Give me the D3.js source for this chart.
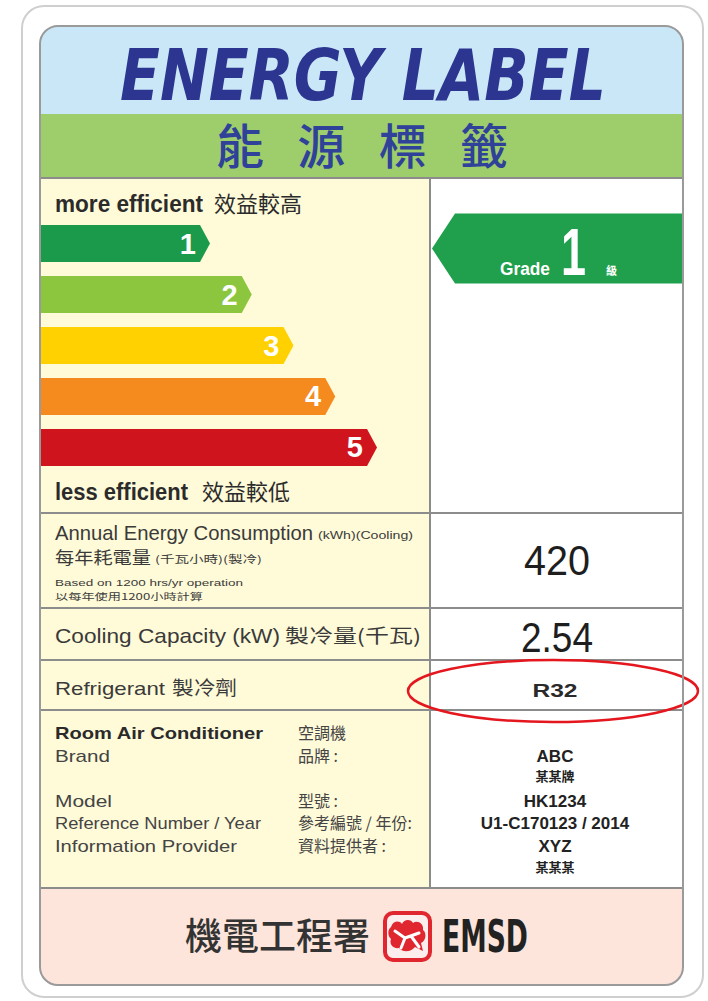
<!DOCTYPE html>
<html lang="zh-Hant">
  <head>
    <meta charset="utf-8"/>
    <title>Energy Label</title>
    <script src="https://cdn.jsdelivr.net/npm/d3@7"></script>
    <style>
      body { margin: 0; background: #fff; }
      svg { display: block; }
    </style>
  </head>
  <body>
    <div id="label-holder"></div>
    <script type="text/javascript">

      // grades shown on the scale, best first
      var grades = [1, 2, 3, 4, 5];
      var gradeColours = ["#1c9a4b", "#8cc63f", "#ffd100", "#f58a1f", "#d0141d"];
      var currentGrade = 1;

      // rows of the table
      var annualEnergy = "420";
      var coolingCapacity = "2.54";
      var refrigerant = "R32";

      var infoLabelsEn = ["Room Air Conditioner", "Brand", "Model", "Reference Number / Year", "Information Provider"];
      var infoLabelsZh = ["空調機", "品牌 :", "型號 :", "參考編號 / 年份:", "資料提供者 :"];
      var infoValues = ["ABC", "某某牌", "HK1234", "U1-C170123 / 2014", "XYZ", "某某某"];

      var W = 708, H = 1001;
      var L = 40, R = 683, T = 26, B = 985, mid = 430;
      var sans = "'Liberation Sans', Arial, sans-serif";
      var cjk = "'Noto Sans CJK TC', 'Noto Sans CJK SC', sans-serif";
      var lineCol = "#8c8c8c";

      var svg = d3.select("#label-holder")
        .append("svg")
        .attr("width", W)
        .attr("height", H)
      ;

      // outer card
      svg.append("rect")
        .attr("x", 22).attr("y", 6)
        .attr("width", 681).attr("height", 991)
        .attr("rx", 22)
        .attr("fill", "#fff")
        .attr("stroke", "#cfcfcf")
        .attr("stroke-width", 2)
      ;

      svg.append("clipPath").attr("id", "labelClip")
        .append("rect")
        .attr("x", L).attr("y", T)
        .attr("width", R - L).attr("height", B - T)
        .attr("rx", 18)
      ;

      var g = svg.append("g").attr("clip-path", "url(#labelClip)");

      // background bands
      g.append("rect").attr("x", L).attr("y", T).attr("width", R - L).attr("height", 114 - T).attr("fill", "#c9e7f6");
      g.append("rect").attr("x", L).attr("y", 114).attr("width", R - L).attr("height", 64).attr("fill", "#9ecd6b");
      g.append("rect").attr("x", L).attr("y", 178).attr("width", mid - L).attr("height", 888 - 178).attr("fill", "#fffad8");
      g.append("rect").attr("x", mid).attr("y", 178).attr("width", R - mid).attr("height", 888 - 178).attr("fill", "#fff");
      g.append("rect").attr("x", L).attr("y", 888).attr("width", R - L).attr("height", B - 888).attr("fill", "#fde5db");

      // squeeze a text horizontally to a given width (keeps its real box)
      function squeeze(sel, x, yy, width) {
        var w = sel.node().getComputedTextLength();
        sel.attr("x", 0).attr("y", 0)
          .attr("transform", "translate(" + x + "," + yy + ") scale(" + (width / w) + ",1)");
        return sel;
      }

      // titles
      var title = svg.append("text")
        .style("font-family", "'DejaVu Sans', sans-serif")
        .style("font-weight", "bold")
        .style("font-style", "italic")
        .style("font-size", "71px")
        .attr("fill", "#2c3590")
        .text("ENERGY LABEL")
      ;
      squeeze(title, 120, 100, 486);

      var zhTitle = ["能", "源", "標", "籤"];
      var zhX = d3.scalePoint().domain(zhTitle).range([240, 484]);
      svg.selectAll("text.zhTitle")
        .data(zhTitle)
        .enter()
        .append("text")
        .attr("class", "zhTitle")
        .attr("x", function(d) { return zhX(d); })
        .attr("y", 164)
        .attr("text-anchor", "middle")
        .style("font-family", cjk)
        .style("font-weight", 500)
        .style("font-size", "48px")
        .attr("fill", "#2f4199")
        .text(function(d) { return d; })
      ;

      // grade bars
      var y = d3.scaleBand()
        .domain(grades)
        .range([225, 466])
        .paddingInner(0.2745)
        .paddingOuter(0)
      ;
      var tipX = d3.scaleLinear().domain([1, 5]).range([210, 377]);
      var bw = y.bandwidth();

      var bars = g.selectAll("g.grade")
        .data(grades)
        .enter()
        .append("g")
        .attr("class", "grade")
      ;
      bars.append("polygon")
        .attr("points", function(d) {
          var t = tipX(d), y0 = y(d);
          return [[L, y0], [t - 10, y0], [t, y0 + bw / 2], [t - 10, y0 + bw], [L, y0 + bw]].join(" ");
        })
        .attr("fill", function(d, i) { return gradeColours[i]; })
      ;
      bars.append("text")
        .attr("x", function(d) { return tipX(d) - 14; })
        .attr("y", function(d) { return y(d) + bw / 2 + 10; })
        .attr("text-anchor", "end")
        .style("font-family", sans)
        .style("font-weight", "bold")
        .style("font-size", "29px")
        .attr("fill", "#fff")
        .text(function(d) { return d; })
      ;

      // efficiency captions
      function caption(yy, en, enW, zh, zhX) {
        svg.append("text")
          .attr("x", 55).attr("y", yy)
          .attr("textLength", enW)
          .attr("lengthAdjust", "spacingAndGlyphs")
          .style("font-family", sans)
          .style("font-weight", "bold")
          .style("font-size", "23px")
          .attr("fill", "#2b2b2b")
          .text(en)
        ;
        svg.append("text")
          .attr("x", zhX).attr("y", yy)
          .style("font-family", cjk)
          .style("font-size", "22px")
          .attr("fill", "#2b2b2b")
          .text(zh)
        ;
      }
      caption(212, "more efficient", 148, "效益較高", 214);
      caption(500, "less efficient", 133, "效益較低", 202);

      // current grade arrow
      var cy = y(currentGrade) + bw / 2 + 5;
      g.append("polygon")
        .attr("points", [[432, cy], [455, cy - 35], [R, cy - 35], [R, cy + 35], [455, cy + 35]].join(" "))
        .attr("fill", "#20a04c")
      ;
      svg.append("text")
        .attr("x", 500).attr("y", cy + 26)
        .attr("textLength", 50)
        .attr("lengthAdjust", "spacingAndGlyphs")
        .style("font-family", sans)
        .style("font-weight", "bold")
        .style("font-size", "18px")
        .attr("fill", "#fff")
        .text("Grade")
      ;
      var bigOne = svg.append("text")
        .style("font-family", sans)
        .style("font-weight", "bold")
        .style("font-size", "66px")
        .attr("fill", "#fff")
        .text(currentGrade)
      ;
      squeeze(bigOne, 561, cy + 26, 25);
      svg.append("text")
        .attr("x", 606).attr("y", cy + 26)
        .style("font-family", cjk)
        .style("font-weight", "bold")
        .style("font-size", "11px")
        .attr("fill", "#fff")
        .text("級")
      ;

      // table lines
      var hLines = [178, 513, 608, 660, 710, 888];
      g.selectAll("line.h")
        .data(hLines)
        .enter()
        .append("line")
        .attr("class", "h")
        .attr("x1", L).attr("x2", R)
        .attr("y1", function(d) { return d; })
        .attr("y2", function(d) { return d; })
        .attr("stroke", lineCol)
        .attr("stroke-width", 2)
      ;
      svg.append("line")
        .attr("x1", mid).attr("x2", mid)
        .attr("y1", 178).attr("y2", 888)
        .attr("stroke", lineCol)
        .attr("stroke-width", 2)
      ;

      function txt(x, yy, s, size, opts) {
        opts = opts || {};
        var t = svg.append("text")
          .attr("x", x).attr("y", yy)
          .style("font-family", opts.family || sans)
          .style("font-size", size + "px")
          .style("font-weight", opts.weight || "normal")
          .attr("fill", opts.fill || "#3a3a3a")
          .attr("text-anchor", opts.anchor || "start")
          .text(s)
        ;
        if (opts.len) t.attr("textLength", opts.len).attr("lengthAdjust", "spacingAndGlyphs");
        return t;
      }

      // annual energy row
      txt(55, 540, "Annual Energy Consumption", 21, {len: 258});
      txt(318, 539, "(kWh)(Cooling)", 10, {len: 95});
      txt(55, 564, "每年耗電量", 17, {family: cjk, len: 96});
      txt(155, 563, "(千瓦小時)(製冷)", 10, {family: cjk, len: 107});
      txt(55, 586, "Based on 1200 hrs/yr operation", 9.5, {len: 188});
      txt(55, 600, "以每年使用1200小時計算", 9, {family: cjk, len: 148});
      txt(557, 575, annualEnergy, 42, {anchor: "middle", fill: "#1e1e1e", len: 66});

      // cooling capacity row
      txt(55, 643, "Cooling Capacity (kW)", 21, {len: 225});
      txt(285, 643, "製冷量(千瓦)", 19, {family: cjk, len: 136});
      txt(557, 652, coolingCapacity, 42, {anchor: "middle", fill: "#1e1e1e", len: 72});

      // refrigerant row
      txt(55, 695, "Refrigerant", 19, {len: 110});
      txt(172, 695, "製冷劑", 19, {family: cjk, len: 65});
      txt(555, 697, refrigerant, 19, {anchor: "middle", weight: "bold", fill: "#2a2a2a", len: 45});

      svg.append("ellipse")
        .attr("cx", 553).attr("cy", 691)
        .attr("rx", 145).attr("ry", 31)
        .attr("fill", "none")
        .attr("stroke", "#e4161e")
        .attr("stroke-width", 2.5)
      ;

      // product info
      var infoY = [739, 762, 807, 829, 852];
      var infoW = [208, 55, 57, 206, 182];
      infoLabelsEn.forEach(function(s, i) {
        txt(55, infoY[i], s, 17, {len: infoW[i], weight: i === 0 ? "bold" : "normal", fill: i === 0 ? "#2a2a2a" : "#444"});
        txt(298, infoY[i], infoLabelsZh[i], 16, {family: cjk, fill: "#444"});
      });
      var valY = [762, 781, 807, 829, 852, 872];
      infoValues.forEach(function(s, i) {
        var zh = /[\u4e00-\u9fff]/.test(s);
        txt(555, valY[i], s, zh ? 13 : 17, {anchor: "middle", weight: "bold", family: zh ? cjk : sans, fill: "#222"});
      });

      // footer
      txt(370, 950, "機電工程署", 37, {family: cjk, anchor: "end", weight: 500, fill: "#333"});
      var logo = svg.append("g").attr("transform", "translate(383,911)");
      logo.append("rect").attr("x", 2).attr("y", 2).attr("width", 45).attr("height", 47).attr("rx", 8)
        .attr("fill", "#fdeeee").attr("stroke", "#e0262f").attr("stroke-width", 4);
      logo.append("path")
        .attr("d", "M8 16 C10 10 16 9 19 13 C21 8 28 8 30 12 C34 9 41 12 40 19 C44 22 43 30 38 32 L40 40 L32 36 C28 41 20 42 16 37 C10 38 6 33 8 28 C4 24 5 18 8 16 Z")
        .attr("fill", "#e0262f")
      ;
      logo.append("path")
        .attr("d", "M12 20 L22 27 L18 37 M22 27 L36 22 M28 25 L36 36")
        .attr("fill", "none")
        .attr("stroke", "#fff")
        .attr("stroke-width", 3)
        .attr("stroke-linecap", "round")
      ;
      var emsd = txt(0, 0, "EMSD", 44, {family: "'DejaVu Sans Condensed', 'DejaVu Sans', sans-serif", weight: "bold", fill: "#222"});
      squeeze(emsd, 442, 952, 86);

      // inner label border on top
      svg.append("rect")
        .attr("x", L).attr("y", T)
        .attr("width", R - L).attr("height", B - T)
        .attr("rx", 18)
        .attr("fill", "none")
        .attr("stroke", "#9a9a9a")
        .attr("stroke-width", 2)
      ;
    </script>
  </body>
</html>
